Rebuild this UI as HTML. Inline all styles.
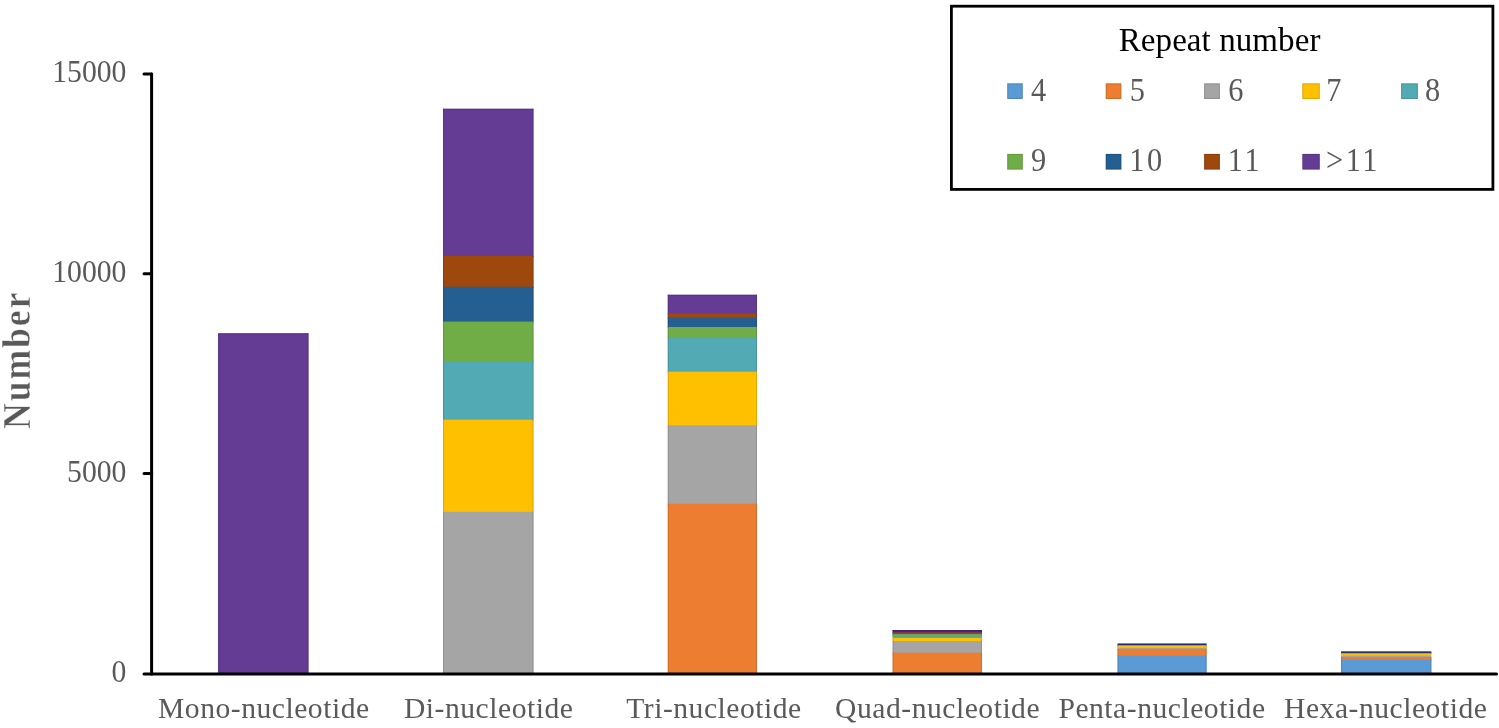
<!DOCTYPE html>
<html>
<head>
<meta charset="utf-8">
<title>SSR repeat number chart</title>
<style>
html,body{margin:0;padding:0;background:#ffffff;}
body{width:1499px;height:728px;overflow:hidden;font-family:"Liberation Serif",serif;}
svg{display:block;will-change:transform;}
text{font-family:"Liberation Serif",serif;}
</style>
</head>
<body>
<svg width="1499" height="728" viewBox="0 0 1499 728">
<!-- stacked bars: each segment drawn from its top to baseline, top-most first -->
<g>
<rect x="218.2" y="333.4" width="90.2" height="340.60" fill="#643c94"/>
<rect x="218.2" y="333.4" width="1" height="340.60" fill="#583482"/>
<rect x="307.4" y="333.4" width="1" height="340.60" fill="#583482"/>
<rect x="218.2" y="333.4" width="90.2" height="1" fill="#583482"/>
<rect x="443.1" y="108.8" width="90.3" height="148.20" fill="#643c94"/>
<rect x="443.1" y="108.8" width="1" height="148.20" fill="#583482"/>
<rect x="532.4" y="108.8" width="1" height="148.20" fill="#583482"/>
<rect x="443.1" y="108.8" width="90.3" height="1" fill="#583482"/>
<rect x="443.1" y="256.0" width="90.3" height="31.80" fill="#9e480e"/>
<rect x="443.1" y="256.0" width="1" height="31.80" fill="#8b3f0c"/>
<rect x="532.4" y="256.0" width="1" height="31.80" fill="#8b3f0c"/>
<rect x="443.1" y="286.8" width="90.3" height="35.80" fill="#255e91"/>
<rect x="443.1" y="286.8" width="1" height="35.80" fill="#20527f"/>
<rect x="532.4" y="286.8" width="1" height="35.80" fill="#20527f"/>
<rect x="443.1" y="321.6" width="90.3" height="40.50" fill="#70ad47"/>
<rect x="443.1" y="321.6" width="1" height="40.50" fill="#62983e"/>
<rect x="532.4" y="321.6" width="1" height="40.50" fill="#62983e"/>
<rect x="443.1" y="361.1" width="90.3" height="59.60" fill="#52aab4"/>
<rect x="443.1" y="361.1" width="1" height="59.60" fill="#48959e"/>
<rect x="532.4" y="361.1" width="1" height="59.60" fill="#48959e"/>
<rect x="443.1" y="419.7" width="90.3" height="93.10" fill="#ffc000"/>
<rect x="443.1" y="419.7" width="1" height="93.10" fill="#e0a800"/>
<rect x="532.4" y="419.7" width="1" height="93.10" fill="#e0a800"/>
<rect x="443.1" y="511.8" width="90.3" height="162.20" fill="#a5a5a5"/>
<rect x="443.1" y="511.8" width="1" height="162.20" fill="#919191"/>
<rect x="532.4" y="511.8" width="1" height="162.20" fill="#919191"/>
<rect x="667.8" y="294.8" width="89.2" height="19.60" fill="#643c94"/>
<rect x="667.8" y="294.8" width="1" height="19.60" fill="#583482"/>
<rect x="756.0" y="294.8" width="1" height="19.60" fill="#583482"/>
<rect x="667.8" y="294.8" width="89.2" height="1" fill="#583482"/>
<rect x="667.8" y="313.4" width="89.2" height="5.10" fill="#9e480e"/>
<rect x="667.8" y="313.4" width="1" height="5.10" fill="#8b3f0c"/>
<rect x="756.0" y="313.4" width="1" height="5.10" fill="#8b3f0c"/>
<rect x="667.8" y="317.5" width="89.2" height="10.50" fill="#255e91"/>
<rect x="667.8" y="317.5" width="1" height="10.50" fill="#20527f"/>
<rect x="756.0" y="317.5" width="1" height="10.50" fill="#20527f"/>
<rect x="667.8" y="327.0" width="89.2" height="11.30" fill="#70ad47"/>
<rect x="667.8" y="327.0" width="1" height="11.30" fill="#62983e"/>
<rect x="756.0" y="327.0" width="1" height="11.30" fill="#62983e"/>
<rect x="667.8" y="337.3" width="89.2" height="35.40" fill="#52aab4"/>
<rect x="667.8" y="337.3" width="1" height="35.40" fill="#48959e"/>
<rect x="756.0" y="337.3" width="1" height="35.40" fill="#48959e"/>
<rect x="667.8" y="371.7" width="89.2" height="54.60" fill="#ffc000"/>
<rect x="667.8" y="371.7" width="1" height="54.60" fill="#e0a800"/>
<rect x="756.0" y="371.7" width="1" height="54.60" fill="#e0a800"/>
<rect x="667.8" y="425.3" width="89.2" height="79.40" fill="#a5a5a5"/>
<rect x="667.8" y="425.3" width="1" height="79.40" fill="#919191"/>
<rect x="756.0" y="425.3" width="1" height="79.40" fill="#919191"/>
<rect x="667.8" y="503.7" width="89.2" height="170.30" fill="#ed7d31"/>
<rect x="667.8" y="503.7" width="1" height="170.30" fill="#d06e2b"/>
<rect x="756.0" y="503.7" width="1" height="170.30" fill="#d06e2b"/>
<rect x="892.7" y="630.1" width="89.2" height="3.30" fill="#4b2490"/>
<rect x="892.7" y="630.1" width="1" height="3.30" fill="#421f7e"/>
<rect x="980.9" y="630.1" width="1" height="3.30" fill="#421f7e"/>
<rect x="892.7" y="630.1" width="89.2" height="1" fill="#421f7e"/>
<rect x="892.7" y="632.4" width="89.2" height="2.30" fill="#9e480e"/>
<rect x="892.7" y="633.7" width="89.2" height="1.40" fill="#255e91"/>
<rect x="892.7" y="634.1" width="89.2" height="3.30" fill="#70ad47"/>
<rect x="892.7" y="634.1" width="1" height="3.30" fill="#62983e"/>
<rect x="980.9" y="634.1" width="1" height="3.30" fill="#62983e"/>
<rect x="892.7" y="636.4" width="89.2" height="2.60" fill="#52aab4"/>
<rect x="892.7" y="638.0" width="89.2" height="4.00" fill="#ffc000"/>
<rect x="892.7" y="638.0" width="1" height="4.00" fill="#e0a800"/>
<rect x="980.9" y="638.0" width="1" height="4.00" fill="#e0a800"/>
<rect x="892.7" y="641.0" width="89.2" height="12.60" fill="#a5a5a5"/>
<rect x="892.7" y="641.0" width="1" height="12.60" fill="#919191"/>
<rect x="980.9" y="641.0" width="1" height="12.60" fill="#919191"/>
<rect x="892.7" y="652.6" width="89.2" height="21.40" fill="#ed7d31"/>
<rect x="892.7" y="652.6" width="1" height="21.40" fill="#d06e2b"/>
<rect x="980.9" y="652.6" width="1" height="21.40" fill="#d06e2b"/>
<rect x="1117.6" y="643.4" width="88.9" height="1.70" fill="#4b2490"/>
<rect x="1117.6" y="644.1" width="88.9" height="2.10" fill="#1f2c7c"/>
<rect x="1117.6" y="645.2" width="88.9" height="1.40" fill="#70ad47"/>
<rect x="1117.6" y="645.6" width="88.9" height="3.30" fill="#ffc000"/>
<rect x="1117.6" y="645.6" width="1" height="3.30" fill="#e0a800"/>
<rect x="1205.5" y="645.6" width="1" height="3.30" fill="#e0a800"/>
<rect x="1117.6" y="647.9" width="88.9" height="2.00" fill="#a5a5a5"/>
<rect x="1117.6" y="648.9" width="88.9" height="7.60" fill="#ed7d31"/>
<rect x="1117.6" y="648.9" width="1" height="7.60" fill="#d06e2b"/>
<rect x="1205.5" y="648.9" width="1" height="7.60" fill="#d06e2b"/>
<rect x="1117.6" y="655.5" width="88.9" height="18.50" fill="#5b9bd5"/>
<rect x="1117.6" y="655.5" width="1" height="18.50" fill="#5088bb"/>
<rect x="1205.5" y="655.5" width="1" height="18.50" fill="#5088bb"/>
<rect x="1341.1" y="651.3" width="90.2" height="1.60" fill="#4b2490"/>
<rect x="1341.1" y="651.9" width="90.2" height="2.00" fill="#1f2c7c"/>
<rect x="1341.1" y="652.9" width="90.2" height="1.80" fill="#70ad47"/>
<rect x="1341.1" y="653.7" width="90.2" height="2.90" fill="#ffc000"/>
<rect x="1341.1" y="655.6" width="90.2" height="2.40" fill="#a5a5a5"/>
<rect x="1341.1" y="657.0" width="90.2" height="3.50" fill="#ed7d31"/>
<rect x="1341.1" y="657.0" width="1" height="3.50" fill="#d06e2b"/>
<rect x="1430.3" y="657.0" width="1" height="3.50" fill="#d06e2b"/>
<rect x="1341.1" y="659.5" width="90.2" height="14.50" fill="#5b9bd5"/>
<rect x="1341.1" y="659.5" width="1" height="14.50" fill="#5088bb"/>
<rect x="1430.3" y="659.5" width="1" height="14.50" fill="#5088bb"/>
</g>
<!-- axes -->
<g stroke="#000000" stroke-width="3" fill="none" stroke-linecap="round">
<line x1="151.6" y1="74" x2="151.6" y2="674"/>
<line x1="144" y1="674" x2="1496.5" y2="674"/>
<line x1="144" y1="74" x2="151.6" y2="74"/>
<line x1="144" y1="273.7" x2="151.6" y2="273.7"/>
<line x1="144" y1="473.5" x2="151.6" y2="473.5"/>
</g>
<!-- y tick labels -->
<g font-size="29.7" fill="#595959" text-anchor="end">
<text transform="translate(126.4,82.1) scale(1,1.04)">15000</text>
<text transform="translate(126.4,281.8) scale(1,1.04)">10000</text>
<text transform="translate(126.4,481.6) scale(1,1.04)">5000</text>
<text transform="translate(126.4,682.1) scale(1,1.04)">0</text>
</g>
<!-- y axis title -->
<text transform="translate(30.1,359.8) rotate(-90) scale(0.87,1)" font-size="40.9" font-weight="bold" letter-spacing="2.3" fill="#595959" stroke="#ffffff" stroke-width="0.5" text-anchor="middle">Number</text>
<!-- x labels -->
<g font-size="29.6" letter-spacing="0.52" fill="#595959" text-anchor="middle">
<text x="263.8" y="718.2">Mono-nucleotide</text>
<text x="488.7" y="718.2">Di-nucleotide</text>
<text x="714.0" y="718.2">Tri-nucleotide</text>
<text x="937.6" y="718.2">Quad-nucleotide</text>
<text x="1162.0" y="718.2">Penta-nucleotide</text>
<text x="1385.7" y="718.2">Hexa-nucleotide</text>
</g>
<!-- legend -->
<rect x="951.4" y="6.2" width="541.5" height="183.2" fill="#ffffff" stroke="#000000" stroke-width="2.8"/>
<text x="1219.6" y="51.2" font-size="33" letter-spacing="0.08" fill="#000000" text-anchor="middle">Repeat number</text>
<rect x="1007.2" y="83.3" width="15.6" height="15.7" fill="#5088bb"/><rect x="1008.3" y="84.4" width="13.4" height="13.5" fill="#5b9bd5"/>
<rect x="1105.7" y="83.3" width="15.7" height="15.7" fill="#d06e2b"/><rect x="1106.8" y="84.4" width="13.5" height="13.5" fill="#ed7d31"/>
<rect x="1204.1" y="83.3" width="15.8" height="15.7" fill="#919191"/><rect x="1205.2" y="84.4" width="13.6" height="13.5" fill="#a5a5a5"/>
<rect x="1302.3" y="83.3" width="17.5" height="15.7" fill="#e0a800"/><rect x="1303.4" y="84.4" width="15.3" height="13.5" fill="#ffc000"/>
<rect x="1401.1" y="83.3" width="16.8" height="15.7" fill="#48959e"/><rect x="1402.2" y="84.4" width="14.6" height="13.5" fill="#52aab4"/>
<rect x="1007.2" y="153.9" width="15.6" height="15.7" fill="#62983e"/><rect x="1008.3" y="155.0" width="13.4" height="13.5" fill="#70ad47"/>
<rect x="1105.7" y="153.9" width="15.7" height="15.7" fill="#20527f"/><rect x="1106.8" y="155.0" width="13.5" height="13.5" fill="#255e91"/>
<rect x="1204.1" y="153.9" width="15.8" height="15.7" fill="#8b3f0c"/><rect x="1205.2" y="155.0" width="13.6" height="13.5" fill="#9e480e"/>
<rect x="1302.3" y="153.9" width="17.5" height="15.7" fill="#583482"/><rect x="1303.4" y="155.0" width="15.3" height="13.5" fill="#643c94"/>
<g font-size="33" fill="#595959">
<text transform="translate(1031.06,100.5) scale(0.92,1.04)">4</text>
<text transform="translate(1129.66,100.5) scale(0.92,1.04)">5</text>
<text transform="translate(1228.16,100.5) scale(0.92,1.04)">6</text>
<text transform="translate(1326.36,100.5) scale(0.92,1.04)">7</text>
<text transform="translate(1424.96,100.5) scale(0.92,1.04)">8</text>
<text transform="translate(1031.06,171.2) scale(0.92,1.04)">9</text>
<text transform="translate(1129.30,171.2) scale(0.92,1.04)" letter-spacing="2.8">10</text>
<text transform="translate(1227.80,171.2) scale(0.92,1.04)" letter-spacing="2.8">11</text>
<text transform="translate(1326.00,171.2) scale(0.92,1.04)" letter-spacing="2.8">&gt;11</text>
</g>
</svg>
</body>
</html>
